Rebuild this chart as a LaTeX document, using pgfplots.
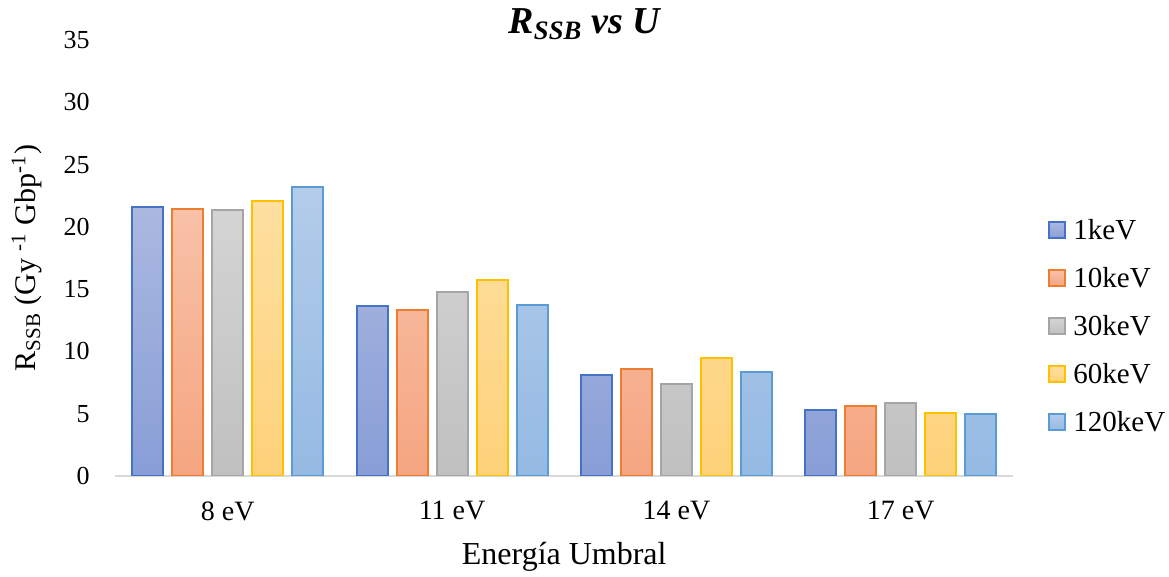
\documentclass[border=0pt]{standalone}
\usepackage{pgfplots}
\pgfplotsset{compat=1.18}
\usepackage{fontspec}
\setmainfont{Liberation Serif}
\definecolor{e1}{HTML}{4472C4}\definecolor{t1}{HTML}{ABB8E0}\definecolor{b1}{HTML}{889ED7}
\definecolor{e2}{HTML}{ED7D31}\definecolor{t2}{HTML}{F8C1A8}\definecolor{b2}{HTML}{F5A580}
\definecolor{e3}{HTML}{A5A5A5}\definecolor{t3}{HTML}{D4D4D4}\definecolor{b3}{HTML}{C0C0C0}
\definecolor{e4}{HTML}{FFC000}\definecolor{t4}{HTML}{FEDFA0}\definecolor{b4}{HTML}{FED27A}
\definecolor{e5}{HTML}{5B9BD5}\definecolor{t5}{HTML}{B3CCEA}\definecolor{b5}{HTML}{95BAE3}
\definecolor{axisgray}{HTML}{D9D9D9}
\begin{document}
\begin{tikzpicture}
\begin{axis}[
  at={(57.75pt,50.5pt)}, anchor=south west,
  scale only axis, width=448.75pt, height=218pt,
  ybar=4.5pt, bar width=15.5pt,
  xmin=-0.5, xmax=3.5, ymin=0, ymax=35,
  xtick={0,1,2,3}, xticklabels={8 eV,11 eV,14 eV,17 eV},
  ytick={0,5,...,35},
  axis x line*=bottom, axis y line*=left,
  x axis line style={draw=axisgray, line width=1pt},
  y axis line style={draw=none},
  major tick length=0pt, tick style={draw=none},
  /pgf/number format/assume math mode=true,
  ticklabel style={inner sep=0pt},
  yticklabel style={xshift=-12.75pt, font=\fontsize{13}{15}\selectfont},
  xticklabel style={yshift=-12.5pt, font=\fontsize{14}{16}\selectfont},
  xlabel={Energía Umbral},
  ylabel={R\textsubscript{SSB} (Gy \textsuperscript{-1} Gbp\textsuperscript{-1})},
  x label style={at={(axis description cs:0.5,-0.186)}, anchor=center, font=\fontsize{16}{19}\selectfont},
  y label style={at={(axis description cs:-0.0986,0.5)}, anchor=center, font=\fontsize{15}{18}\selectfont},
  title={R\textsubscript{SSB} vs U},
  every axis title shift=0pt,
  title style={at={(axis description cs:0.5226,1.036)}, anchor=center, yshift=0pt, font=\fontsize{19}{22}\selectfont\bfseries\itshape},
  legend image code/.code={\draw[#1] (0pt,-4pt) rectangle (8pt,4pt);},
  legend style={draw=none, fill=none, at={(axis description cs:1.039,0.344)}, anchor=west,
    inner sep=0pt, row sep=14.5pt, font=\fontsize{14.5}{17}\selectfont,
    nodes={inner sep=0pt, text height=9.5pt, text depth=0pt},
    cells={anchor=west},
    /tikz/every odd column/.append style={column sep=3.5pt}},
]
\addplot[draw=e1, line width=1pt, top color=t1, bottom color=b1] coordinates {(0,21.56)(1,13.67)(2,8.13)(3,5.30)};
\addplot[draw=e2, line width=1pt, top color=t2, bottom color=b2] coordinates {(0,21.40)(1,13.35)(2,8.61)(3,5.64)};
\addplot[draw=e3, line width=1pt, top color=t3, bottom color=b3] coordinates {(0,21.35)(1,14.74)(2,7.41)(3,5.83)};
\addplot[draw=e4, line width=1pt, top color=t4, bottom color=b4] coordinates {(0,22.10)(1,15.75)(2,9.50)(3,5.03)};
\addplot[draw=e5, line width=1pt, top color=t5, bottom color=b5] coordinates {(0,23.20)(1,13.75)(2,8.35)(3,5.00)};
\legend{1keV,10keV,30keV,60keV,120keV}
\end{axis}
\pgfresetboundingbox
\useasboundingbox (0,0) rectangle (584.5pt,288.5pt);
\end{tikzpicture}
\end{document}
